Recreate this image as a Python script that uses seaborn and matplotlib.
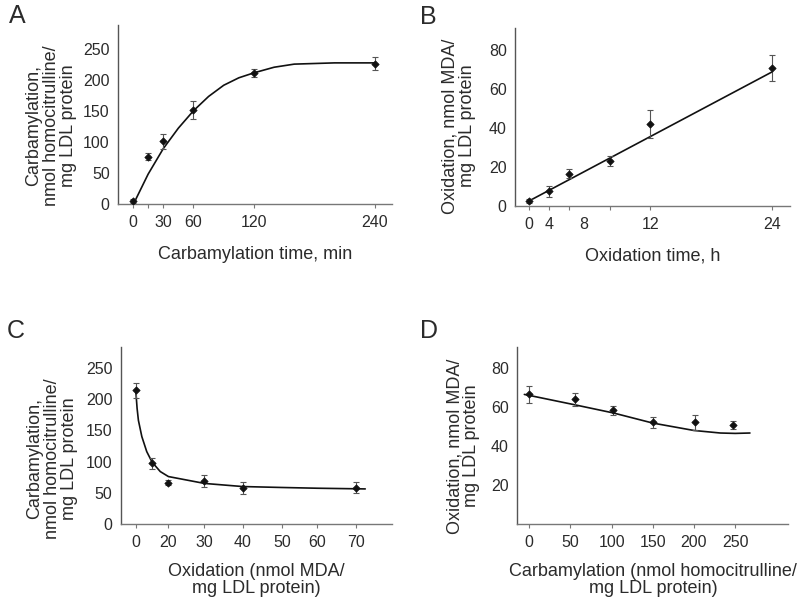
import numpy as np
import matplotlib
matplotlib.use("Agg")
import matplotlib.pyplot as plt
from matplotlib.ticker import NullLocator
import seaborn as sns
import pandas as pd

# ---------------- data ----------------
# Panel A
a_time = [0, 15, 30, 60, 120, 240]
a_carb = [5, 76, 101, 151, 211, 226]
a_err = [3, 6, 12, 14, 6, 11]
a_fit_x = [2, 15, 30, 45, 60, 75, 90, 105, 120, 140, 160, 200, 240]
a_fit_y = [5, 48, 89, 122, 150, 173, 191, 203, 211, 220, 225, 227, 227]
a_xticks = [0, 15, 30, 60, 120, 240]
a_xticklabels = ["0", "", "30", "60", "120", "240"]
a_yticks = [0, 50, 100, 150, 200, 250]

# Panel B
b_time = [0, 2, 4, 8, 12, 24]
b_ox = [2.5, 7.5, 16.5, 23, 42, 70.5]
b_err = [1, 2.7, 2.3, 2.5, 7, 6.6]
b_fit_x = [0, 24]
b_fit_y = [2.5, 68.5]
b_label_pos = [0, 2, 5.4, 12, 24]
b_labels = ["0", "4", "8", "12", "24"]
b_yticks = [0, 20, 40, 60, 80]

# Panel C
c_ox = [0, 10, 20, 30, 40, 70]
c_carb = [214, 97, 66, 69, 57, 58]
c_err = [12, 9, 4, 9, 9.5, 9]
c_fit_x = [0, 0.8, 1.6, 3.7, 6.7, 10, 15, 20, 30, 40, 50, 60, 72.5]
c_fit_y = [213, 185, 166, 140, 116, 99, 84, 76, 65, 60, 58.5, 57.3, 56.2]
c_xticks = [0, 20, 30, 40, 50, 60, 70]
c_yticks = [0, 50, 100, 150, 200, 250]

# Panel D
d_carb = [0, 55, 102, 150, 201, 248]
d_ox = [66.6, 64, 58.3, 52.3, 52.3, 50.8]
d_err = [4.3, 3.4, 2.3, 2.8, 3.8, 2]
d_fit_x = [-6, 0, 55, 102, 150, 200, 232, 250, 268]
d_fit_y = [66.5, 66, 61.2, 57, 51.8, 48, 46.7, 46.5, 46.7]
d_xticks = [0, 50, 100, 150, 200, 250]
d_yticks = [20, 40, 60, 80]

# ---------------- style ----------------
sns.set_style("ticks")
plt.rcParams["font.family"] = ["Liberation Sans", "DejaVu Sans"]
TXT = "#2b2b2b"
plt.rcParams["text.color"] = TXT
plt.rcParams["axes.labelcolor"] = TXT
plt.rcParams["xtick.color"] = "#777777"
plt.rcParams["ytick.color"] = "#777777"
plt.rcParams["xtick.labelcolor"] = TXT
plt.rcParams["ytick.labelcolor"] = TXT

fig = plt.figure(figsize=(8.0, 6.06), dpi=100)

axA = fig.add_axes([0.1475, 0.6634, 0.3425, 0.2954])
axB = fig.add_axes([0.64375, 0.66, 0.34375, 0.2937])
axC = fig.add_axes([0.151, 0.1353, 0.339, 0.2926])
axD = fig.add_axes([0.6466, 0.1353, 0.339, 0.2926])

# piecewise scale for panel C (uneven spacing of the printed axis)
c_scale_vals = np.array([-20, 0, 20, 30, 40, 50, 60, 70, 100], dtype=float)
c_scale_pos = np.array([103.1, 135.7, 168.3, 204.3, 242.5, 281.7, 317.3, 355.5, 470.1])


def c_fwd(v):
    return np.interp(np.asarray(v, dtype=float), c_scale_vals, c_scale_pos)


def c_inv(p):
    return np.interp(np.asarray(p, dtype=float), c_scale_pos, c_scale_vals)


axC.set_xscale("function", functions=(c_fwd, c_inv))

TICK_FS = 11.5
LAB_FS = 13


def draw(ax, x, y, err, fx, fy):
    sns.lineplot(x=fx, y=fy, ax=ax, color="#111111", linewidth=1.2, sort=False,
                 estimator=None)
    ax.errorbar(x, y, yerr=err, fmt="none", ecolor="#555555", elinewidth=0.8,
                capsize=2.5, capthick=0.8, zorder=3)
    sns.scatterplot(x=x, y=y, ax=ax, marker="D", s=14, color="#111111",
                    edgecolor="#111111", linewidth=0.5, zorder=4)


def style(ax):
    sns.despine(ax=ax)
    ax.spines["left"].set_color("#555555")
    ax.spines["bottom"].set_color("#777777")
    ax.spines["left"].set_linewidth(1.0)
    ax.spines["bottom"].set_linewidth(1.0)
    ax.tick_params(axis="y", length=0, pad=6, labelsize=TICK_FS)
    ax.tick_params(axis="x", which="major", length=3, width=0.8, pad=5,
                   labelsize=TICK_FS)


# Panel A
draw(axA, a_time, a_carb, a_err, a_fit_x, a_fit_y)
axA.set_xlim(-14.9, 257)
axA.set_ylim(0, 288)
axA.set_xticks(a_xticks, a_xticklabels)
axA.set_yticks(a_yticks)
style(axA)
axA.set_xlabel("Carbamylation time, min", fontsize=LAB_FS, va="center")
axA.xaxis.set_label_coords(0.5, -0.285)
axA.set_ylabel("Carbamylation,\nnmol homocitrulline/\nmg LDL protein",
               fontsize=LAB_FS, va="center", linespacing=1.0)
axA.yaxis.set_label_coords(-0.2445, 0.437)

# Panel B
draw(axB, b_time, b_ox, b_err, b_fit_x, b_fit_y)
axB.set_xlim(-1.35, 25.8)
axB.set_ylim(0, 91)
axB.xaxis.remove_overlapping_locs = False
axB.set_xticks(b_label_pos, b_labels)
axB.set_xticks(b_time, minor=True)
axB.set_yticks(b_yticks)
style(axB)
axB.tick_params(axis="x", which="major", length=0, pad=8, labelsize=TICK_FS)
axB.tick_params(axis="x", which="minor", length=3, width=0.8,
                color="#777777", labelbottom=False)
axB.set_xlabel("Oxidation time, h", fontsize=LAB_FS, va="center")
axB.xaxis.set_label_coords(0.5, -0.279)
axB.set_ylabel("Oxidation, nmol MDA/\nmg LDL protein", fontsize=LAB_FS,
               va="center", linespacing=1.0)
axB.yaxis.set_label_coords(-0.204, 0.449)

# Panel C
draw(axC, c_ox, c_carb, c_err, c_fit_x, c_fit_y)
axC.set_xlim(-9.2, 79.5)
axC.set_ylim(0, 284)
axC.set_xticks(c_xticks, [str(v) for v in c_xticks])
axC.xaxis.set_minor_locator(NullLocator())
axC.set_yticks(c_yticks)
style(axC)
axC.set_xlabel("Oxidation (nmol MDA/\nmg LDL protein)", fontsize=LAB_FS,
               va="center", linespacing=1.0)
axC.xaxis.set_label_coords(0.5, -0.316)
axC.set_ylabel("Carbamylation,\nnmol homocitrulline/\nmg LDL protein",
               fontsize=LAB_FS, va="center", linespacing=1.0)
axC.yaxis.set_label_coords(-0.2535, 0.367)

# Panel D
draw(axD, d_carb, d_ox, d_err, d_fit_x, d_fit_y)
axD.set_xlim(-14.6, 314.8)
axD.set_ylim(0, 91)
axD.set_xticks(d_xticks)
axD.set_yticks(d_yticks)
style(axD)
axD.set_xlabel("Carbamylation (nmol homocitrulline/\nmg LDL protein)",
               fontsize=LAB_FS, va="center", linespacing=1.0)
axD.xaxis.set_label_coords(0.5, -0.313)
axD.set_ylabel("Oxidation, nmol MDA/\nmg LDL protein", fontsize=LAB_FS,
               va="center", linespacing=1.0)
axD.yaxis.set_label_coords(-0.2, 0.44)

# Panel letters
for letter, (px, py) in zip("ABCD", [(17, 16), (428, 17), (15.5, 331), (428.5, 331)]):
    fig.text(px / 800, 1 - py / 606, letter, fontsize=18, ha="center", va="center",
             color=TXT)

fig.savefig("out.png", dpi=100)
